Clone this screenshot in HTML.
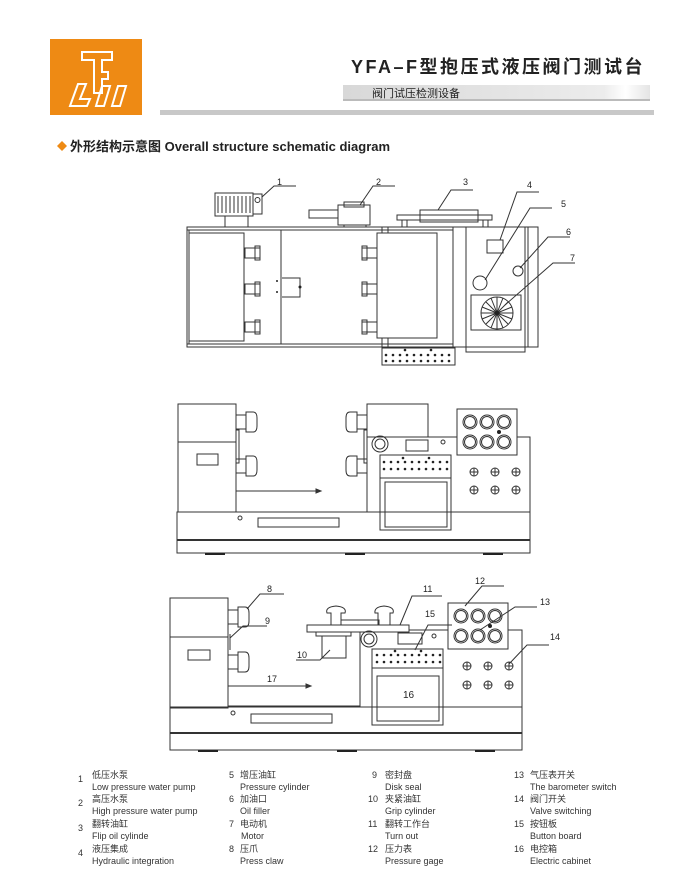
<!DOCTYPE html>
<html><head><meta charset="utf-8"><style>
body{margin:0;background:#fff}
svg{display:block}
text{font-family:"Liberation Sans","Noto Sans CJK SC",sans-serif}
</style></head><body>
<svg width="700" height="880" viewBox="0 0 700 880" xmlns="http://www.w3.org/2000/svg">
<defs><linearGradient id="g1" x1="0" x2="1"><stop offset="0" stop-color="#d8d8d8"/><stop offset="0.85" stop-color="#ececec"/><stop offset="0.92" stop-color="#fff"/><stop offset="1" stop-color="#e4e4e4"/></linearGradient></defs>
<!-- header -->
<rect x="50" y="39" width="92" height="76" fill="#ee8a14"/>
<g fill="none" stroke="#fff" stroke-width="2">
<path d="M82 52h30v8h-10v12h6v7h-6v14h-8v-33h-12z"/>
<path d="M70 106l8-22h8l-6 15h10l-3 7z"/>
<path d="M96 106l6-20h8l-6 20zM112 106l6-20h8l-6 20z"/>
</g>
<text x="645" y="73" text-anchor="end" font-size="18" font-weight="bold" letter-spacing="2.5" fill="#222">YFA–F型抱压式液压阀门测试台</text>
<rect x="343" y="85" width="307" height="16" fill="url(#g1)"/>
<rect x="343" y="99" width="307" height="2" fill="#bbb"/>
<text x="372" y="97" font-size="11" fill="#222">阀门试压检测设备</text>
<rect x="160" y="110" width="494" height="5" fill="#c8c8c8"/>
<path d="M57 146l5-5 5 5-5 5z" fill="#ee8a14"/>
<text x="70" y="151" font-size="13" font-weight="bold" fill="#222">外形结构示意图 Overall structure schematic diagram</text>

<g fill="none" stroke="#333" stroke-width="1">
<!-- diagram 1 -->
<rect x="187" y="227" width="351" height="120"/>
<line x1="187" y1="230" x2="453" y2="230"/><line x1="187" y1="344" x2="453" y2="344"/>
<rect x="189" y="230" width="92" height="114"/>
<rect x="189" y="233" width="55" height="108"/>
<rect x="245" y="248" width="15" height="10"/><rect x="245" y="284" width="15" height="10"/><rect x="245" y="322" width="15" height="10"/>
<rect x="255" y="246" width="5" height="14"/><rect x="255" y="282" width="5" height="14"/><rect x="255" y="320" width="5" height="14"/>
<path d="M282 278h18v19h-18"/>
<rect x="215" y="193" width="38" height="23"/>
<path d="M218 196v17M222 196v17M226 196v17M230 196v17M234 196v17M238 196v17M242 196v17M246 196v17M250 196v17"/>
<rect x="253" y="194" width="9" height="20"/>
<circle cx="257.5" cy="200" r="2.5"/>
<rect x="225" y="216" width="23" height="11"/>
<rect x="377" y="233" width="60" height="105"/>
<rect x="362" y="248" width="15" height="10"/><rect x="362" y="284" width="15" height="10"/><rect x="362" y="322" width="15" height="10"/>
<rect x="362" y="246" width="5" height="14"/><rect x="362" y="282" width="5" height="14"/><rect x="362" y="320" width="5" height="14"/>
<path d="M382 227v6M388 227v6M382 338v9M388 338v9"/>
<rect x="338" y="205" width="32" height="20"/><rect x="344" y="202" width="20" height="5"/>
<rect x="309" y="210" width="29" height="8"/>
<rect x="344" y="225" width="22" height="2"/>
<rect x="397" y="215" width="95" height="5"/>
<rect x="420" y="210" width="58" height="12"/>
<path d="M402 220v7M407 220v7M483 220v7M488 220v7"/>
<line x1="453" y1="227" x2="453" y2="347"/>
<rect x="466" y="227" width="59" height="125"/>
<line x1="528" y1="227" x2="528" y2="347"/>
<rect x="487" y="240" width="16" height="13"/>
<circle cx="480" cy="283" r="7"/>
<circle cx="518" cy="271" r="5"/>
<rect x="471" y="295" width="50" height="35"/>
<circle cx="497" cy="313" r="16"/>
<path d="M497 297v32M481 313h32M486 302l22 22M508 302l-22 22M491 298l12 30M503 298l-12 30M482 307l30 12M512 307l-30 12"/>
<rect x="382" y="348" width="73" height="17"/>
<path d="M262 197l12-11h22M360 205l13-19h22M438 210l13-20h22M500 240l17-48h22M485 280l45-72h22M520 268l28-31h22M505 305l48-42h22"/>
</g>
<g fill="#222">
<circle cx="386" cy="355" r="1.3"/><circle cx="393" cy="355" r="1.3"/><circle cx="400" cy="355" r="1.3"/><circle cx="407" cy="355" r="1.3"/><circle cx="414" cy="355" r="1.3"/><circle cx="421" cy="355" r="1.3"/><circle cx="428" cy="355" r="1.3"/><circle cx="435" cy="355" r="1.3"/><circle cx="442" cy="355" r="1.3"/><circle cx="449" cy="355" r="1.3"/>
<circle cx="386" cy="361" r="1.3"/><circle cx="393" cy="361" r="1.3"/><circle cx="400" cy="361" r="1.3"/><circle cx="407" cy="361" r="1.3"/><circle cx="414" cy="361" r="1.3"/><circle cx="421" cy="361" r="1.3"/><circle cx="428" cy="361" r="1.3"/><circle cx="435" cy="361" r="1.3"/><circle cx="442" cy="361" r="1.3"/><circle cx="449" cy="361" r="1.3"/>
<circle cx="405" cy="350" r="1.3"/><circle cx="431" cy="350" r="1.3"/>
<circle cx="497" cy="313" r="2"/>
<circle cx="277" cy="281" r="1"/><circle cx="277" cy="292" r="1"/><circle cx="300" cy="287" r="1.5"/>
</g>
<g font-size="9" fill="#222">
<text x="277" y="185">1</text><text x="376" y="185">2</text><text x="463" y="185">3</text><text x="527" y="188">4</text><text x="561" y="207">5</text><text x="566" y="235">6</text><text x="570" y="261">7</text>
</g>

<g fill="none" stroke="#333" stroke-width="1">
<!-- diagram 2 -->
<rect x="178" y="404" width="58" height="108"/>
<line x1="178" y1="442" x2="236" y2="442"/>
<rect x="197" y="454" width="21" height="11"/>
<rect x="236" y="430" width="3" height="33"/>
<path d="M236 415h10v-3h7q4 0 4 6v8q0 6-4 6h-7v-3h-10zM246 415v14M236 459h10v-3h7q4 0 4 6v8q0 6-4 6h-7v-3h-10zM246 459v14"/>
<path d="M367 415h-10v-3h-7q-4 0-4 6v8q0 6 4 6h7v-3h10zM357 415v14M367 459h-10v-3h-7q-4 0-4 6v8q0 6 4 6h7v-3h10zM357 459v14"/>
<rect x="364" y="430" width="3" height="33"/>
<path d="M236 491h80"/><path d="M316 489l5 2-5 2z" fill="#333"/>
<rect x="367" y="404" width="61" height="33"/>
<path d="M367 512v-75h163v75"/>
<rect x="177" y="512" width="353" height="41"/>
<line x1="177" y1="540" x2="530" y2="540" stroke-width="2"/>
<rect x="258" y="518" width="81" height="9"/><circle cx="240" cy="518" r="2"/>
<rect x="457" y="409" width="60" height="46" fill="#fff"/>
<circle cx="470" cy="422" r="7"/><circle cx="470" cy="422" r="5.5"/><circle cx="487" cy="422" r="7"/><circle cx="487" cy="422" r="5.5"/><circle cx="504" cy="422" r="7"/><circle cx="504" cy="422" r="5.5"/>
<circle cx="470" cy="442" r="7"/><circle cx="470" cy="442" r="5.5"/><circle cx="487" cy="442" r="7"/><circle cx="487" cy="442" r="5.5"/><circle cx="504" cy="442" r="7"/><circle cx="504" cy="442" r="5.5"/>
<circle cx="380" cy="444" r="8"/><circle cx="380" cy="444" r="5"/>
<rect x="406" y="440" width="22" height="11"/><circle cx="443" cy="442" r="2"/>
<rect x="380" y="455" width="71" height="75"/><line x1="380" y1="478" x2="451" y2="478"/>
<rect x="385" y="482" width="62" height="45"/>
<circle cx="474" cy="472" r="4"/><circle cx="495" cy="472" r="4"/><circle cx="516" cy="472" r="4"/>
<circle cx="474" cy="490" r="4"/><circle cx="495" cy="490" r="4"/><circle cx="516" cy="490" r="4"/>
<path d="M470 472h8M474 468v8M491 472h8M495 468v8M512 472h8M516 468v8M470 490h8M474 486v8M491 490h8M495 486v8M512 490h8M516 486v8"/>
</g>
<g fill="#222">
<circle cx="384" cy="462" r="1.3"/><circle cx="391" cy="462" r="1.3"/><circle cx="398" cy="462" r="1.3"/><circle cx="405" cy="462" r="1.3"/><circle cx="412" cy="462" r="1.3"/><circle cx="419" cy="462" r="1.3"/><circle cx="426" cy="462" r="1.3"/><circle cx="433" cy="462" r="1.3"/><circle cx="440" cy="462" r="1.3"/><circle cx="447" cy="462" r="1.3"/>
<circle cx="384" cy="469" r="1.3"/><circle cx="391" cy="469" r="1.3"/><circle cx="398" cy="469" r="1.3"/><circle cx="405" cy="469" r="1.3"/><circle cx="412" cy="469" r="1.3"/><circle cx="419" cy="469" r="1.3"/><circle cx="426" cy="469" r="1.3"/><circle cx="433" cy="469" r="1.3"/><circle cx="440" cy="469" r="1.3"/><circle cx="447" cy="469" r="1.3"/>
<circle cx="403" cy="458" r="1.3"/><circle cx="429" cy="458" r="1.3"/><circle cx="499" cy="432" r="2"/>
<rect x="205" y="553" width="20" height="2"/><rect x="345" y="553" width="20" height="2"/><rect x="483" y="553" width="20" height="2"/>
</g>

<g fill="none" stroke="#333" stroke-width="1">
<!-- diagram 3 -->
<rect x="170" y="598" width="58" height="110"/>
<line x1="170" y1="637" x2="228" y2="637"/>
<rect x="188" y="650" width="22" height="10"/>
<path d="M228 610h10v-3h7q4 0 4 6v8q0 6-4 6h-7v-3h-10zM238 610v14M228 655h10v-3h7q4 0 4 6v8q0 6-4 6h-7v-3h-10zM238 655v14"/>
<line x1="230" y1="634" x2="230" y2="650"/>
<path d="M228 686h78"/><path d="M306 684l5 2-5 2z" fill="#333"/>
<path d="M228 706h132v-76h162v77"/>
<rect x="170" y="707" width="352" height="43"/>
<line x1="170" y1="733" x2="522" y2="733" stroke-width="2"/>
<rect x="251" y="714" width="81" height="9"/><circle cx="233" cy="713" r="2"/>
<rect x="307" y="625" width="102" height="7" fill="#fff"/>
<rect x="341" y="620" width="38" height="5"/>
<path d="M331 625v-12h-4q-2-6 9-7q11 1 9 7h-4v12M378 625v-12h-3q-1-6 9-7q11 1 9 7h-3v12"/>
<rect x="316" y="632" width="35" height="4"/>
<rect x="322" y="636" width="24" height="22"/>
<circle cx="369" cy="639" r="8"/><circle cx="369" cy="639" r="5"/>
<rect x="398" y="633" width="24" height="11"/><circle cx="434" cy="636" r="2"/>
<rect x="448" y="603" width="60" height="46" fill="#fff"/>
<circle cx="461" cy="616" r="7"/><circle cx="461" cy="616" r="5.5"/><circle cx="478" cy="616" r="7"/><circle cx="478" cy="616" r="5.5"/><circle cx="495" cy="616" r="7"/><circle cx="495" cy="616" r="5.5"/>
<circle cx="461" cy="636" r="7"/><circle cx="461" cy="636" r="5.5"/><circle cx="478" cy="636" r="7"/><circle cx="478" cy="636" r="5.5"/><circle cx="495" cy="636" r="7"/><circle cx="495" cy="636" r="5.5"/>
<rect x="372" y="649" width="71" height="76"/><line x1="372" y1="668" x2="443" y2="668"/>
<rect x="377" y="676" width="62" height="45"/>
<circle cx="467" cy="666" r="4"/><circle cx="488" cy="666" r="4"/><circle cx="509" cy="666" r="4"/>
<circle cx="467" cy="685" r="4"/><circle cx="488" cy="685" r="4"/><circle cx="509" cy="685" r="4"/>
<path d="M463 666h8M467 662v8M484 666h8M488 662v8M505 666h8M509 662v8M463 685h8M467 681v8M484 685h8M488 681v8M505 685h8M509 681v8"/>
<path d="M247 609l13-15h24M230 638l13-12h24M330 650l-10 10h-24M400 625l12-29h30M415 650l13-25h24M465 606l17-20h22M480 630l35-23h22M509 664l18-19h22"/>
</g>
<g fill="#222">
<circle cx="377" cy="655" r="1.3"/><circle cx="384" cy="655" r="1.3"/><circle cx="391" cy="655" r="1.3"/><circle cx="398" cy="655" r="1.3"/><circle cx="405" cy="655" r="1.3"/><circle cx="412" cy="655" r="1.3"/><circle cx="419" cy="655" r="1.3"/><circle cx="426" cy="655" r="1.3"/><circle cx="433" cy="655" r="1.3"/><circle cx="440" cy="655" r="1.3"/>
<circle cx="377" cy="662" r="1.3"/><circle cx="384" cy="662" r="1.3"/><circle cx="391" cy="662" r="1.3"/><circle cx="398" cy="662" r="1.3"/><circle cx="405" cy="662" r="1.3"/><circle cx="412" cy="662" r="1.3"/><circle cx="419" cy="662" r="1.3"/><circle cx="426" cy="662" r="1.3"/><circle cx="433" cy="662" r="1.3"/><circle cx="440" cy="662" r="1.3"/>
<circle cx="395" cy="651" r="1.3"/><circle cx="421" cy="651" r="1.3"/><circle cx="490" cy="626" r="2"/>
<rect x="198" y="750" width="20" height="2"/><rect x="337" y="750" width="20" height="2"/><rect x="475" y="750" width="20" height="2"/>
</g>
<g font-size="9" fill="#222">
<text x="267" y="592">8</text><text x="265" y="624">9</text><text x="297" y="658">10</text><text x="423" y="592">11</text><text x="475" y="584">12</text><text x="425" y="617">15</text><text x="540" y="605">13</text><text x="550" y="640">14</text><text x="267" y="682">17</text><text x="403" y="698" font-size="10">16</text>
</g>

<!-- legend -->
<g font-size="9" fill="#333">
<text x="78" y="782">1</text><text x="92" y="778">低压水泵</text><text x="92" y="790">Low pressure water pump</text>
<text x="78" y="806">2</text><text x="92" y="802">高压水泵</text><text x="92" y="814">High pressure water pump</text>
<text x="78" y="831">3</text><text x="92" y="827">翻转油缸</text><text x="92" y="839">Flip oil cylinde</text>
<text x="78" y="856">4</text><text x="92" y="852">液压集成</text><text x="92" y="864">Hydraulic integration</text>
<text x="229" y="778">5</text><text x="240" y="778">增压油缸</text><text x="240" y="790">Pressure cylinder</text>
<text x="229" y="802">6</text><text x="240" y="802">加油口</text><text x="240" y="814">Oil filler</text>
<text x="229" y="827">7</text><text x="240" y="827">电动机</text><text x="241" y="839">Motor</text>
<text x="229" y="852">8</text><text x="240" y="852">压爪</text><text x="240" y="864">Press claw</text>
<text x="372" y="778">9</text><text x="385" y="778">密封盘</text><text x="385" y="790">Disk seal</text>
<text x="368" y="802">10</text><text x="385" y="802">夹紧油缸</text><text x="385" y="814">Grip cylinder</text>
<text x="368" y="827">11</text><text x="385" y="827">翻转工作台</text><text x="385" y="839">Turn out</text>
<text x="368" y="852">12</text><text x="385" y="852">压力表</text><text x="385" y="864">Pressure gage</text>
<text x="514" y="778">13</text><text x="530" y="778">气压表开关</text><text x="530" y="790">The barometer switch</text>
<text x="514" y="802">14</text><text x="530" y="802">阀门开关</text><text x="530" y="814">Valve switching</text>
<text x="514" y="827">15</text><text x="530" y="827">按钮板</text><text x="530" y="839">Button board</text>
<text x="514" y="852">16</text><text x="530" y="852">电控箱</text><text x="530" y="864">Electric cabinet</text>
</g>
</svg>
</body></html>
